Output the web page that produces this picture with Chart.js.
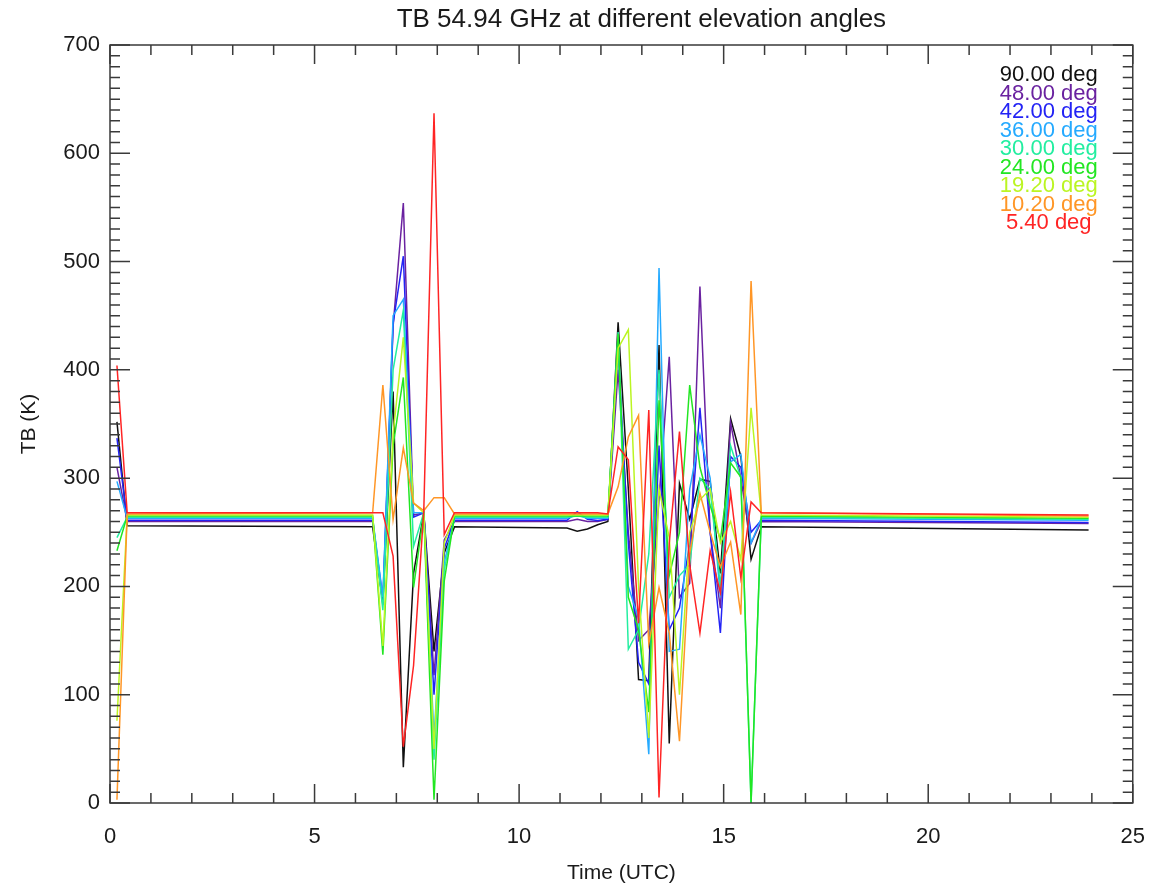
<!DOCTYPE html>
<html>
<head>
<meta charset="utf-8">
<title>TB 54.94 GHz at different elevation angles</title>
<script src="https://cdn.jsdelivr.net/npm/chart.js@4.4.1/dist/chart.umd.min.js"></script>
<style>
  html, body { margin: 0; padding: 0; background: #fff; }
  #tb { display: block; }
</style>
</head>
<body>
<canvas id="tb" width="1166" height="886"></canvas>
<script>
// Sample times (UTC hours), shared by every elevation channel
var times = [0.17, 0.42, 6.42, 6.67, 6.92, 7.17, 7.42, 7.67, 7.92, 8.17, 8.42,
  11.17, 11.42, 11.67, 11.92, 12.17, 12.42, 12.67, 12.92, 13.17, 13.42, 13.67,
  13.92, 14.17, 14.42, 14.67, 14.92, 15.17, 15.42, 15.67, 15.92, 23.92];

var angleLabels = ['90.00 deg', '48.00 deg', '42.00 deg', '36.00 deg', '30.00 deg',
  '24.00 deg', '19.20 deg', '10.20 deg', '5.40 deg'];
var lineColors = ['#111111', '#6a22a0', '#2323f5', '#25aaff', '#22eea0',
  '#22e622', '#bbf522', '#ff9626', '#ff2424'];

// TB (K) per elevation angle, same length as times
var tb90 = [352, 256, 255, 185, 380, 33, 212, 268, 140, 231, 255, 254, 251, 253, 257, 260, 444, 290, 114, 113, 423, 55, 295, 262, 299, 297, 212, 355, 320, 225, 255, 252];
var tb48 = [310, 260, 260, 183, 440, 554, 266, 268, 118, 243, 260, 260, 262, 260, 260, 262, 400, 250, 150, 160, 280, 412, 190, 203, 477, 250, 180, 351, 300, 240, 260, 258];
var tb42 = [337, 261, 261, 188, 443, 505, 264, 268, 100, 235, 261, 261, 269, 262, 261, 262, 420, 240, 130, 110, 330, 160, 180, 240, 365, 250, 157, 320, 310, 250, 261, 259];
var tb36 = [297, 263, 263, 190, 450, 465, 268, 268, 60, 222, 263, 263, 266, 263, 263, 263, 430, 200, 170, 45, 494, 140, 142, 290, 340, 300, 190, 315, 322, 240, 263, 261];
var tb30 = [245, 264, 264, 178, 400, 455, 237, 268, 40, 215, 264, 264, 265, 264, 264, 264, 435, 142, 160, 230, 400, 190, 210, 220, 300, 290, 200, 330, 300, 0, 264, 262];
var tb24 = [233, 265, 265, 137, 330, 393, 199, 268, 3, 205, 265, 265, 265, 265, 265, 265, 433, 190, 160, 84, 372, 210, 250, 386, 310, 275, 243, 314, 301, 0, 265, 263];
var tb19 = [76, 266, 266, 145, 341, 430, 277, 268, 50, 240, 266, 266, 266, 266, 266, 266, 420, 437, 200, 60, 290, 245, 100, 250, 280, 290, 240, 260, 225, 365, 266, 264];
var tb10 = [3, 267, 268, 386, 262, 328, 277, 270, 282, 282, 267, 267, 267, 267, 267, 267, 292, 338, 358, 147, 199, 157, 57, 230, 286, 250, 218, 241, 174, 482, 268, 265];
var tb05 = [404, 268, 268, 268, 228, 52, 127, 270, 637, 248, 268, 268, 268, 268, 268, 267, 329, 317, 166, 363, 5, 240, 343, 220, 157, 233, 194, 287, 208, 278, 268, 266];

var chartTitle = 'TB 54.94 GHz at different elevation angles';

(function () {
  'use strict';

  var FONT = '"Liberation Sans", Arial, Helvetica, sans-serif';
  var INK = '#1a1a1a';
  var series = [tb90, tb48, tb42, tb36, tb30, tb24, tb19, tb10, tb05];

  // Frame with inward major/minor ticks on all four sides, IDL style
  var idlFrame = {
    id: 'idlFrame',
    afterDatasetsDraw: function (chart) {
      var ctx = chart.ctx;
      var a = chart.chartArea;
      var xs = chart.scales.x;
      var ys = chart.scales.y;
      var v, p, len;

      ctx.save();
      ctx.strokeStyle = '#3a3a3a';
      ctx.lineWidth = 1.5;
      ctx.strokeRect(a.left, a.top, a.right - a.left, a.bottom - a.top);

      ctx.beginPath();
      for (v = xs.min; v <= xs.max; v += 1) {
        p = xs.getPixelForValue(v);
        len = (v % 5 === 0) ? 19 : 10;
        ctx.moveTo(p, a.bottom); ctx.lineTo(p, a.bottom - len);
        ctx.moveTo(p, a.top); ctx.lineTo(p, a.top + len);
      }
      for (v = ys.min; v <= ys.max; v += 10) {
        p = ys.getPixelForValue(v);
        len = (v % 100 === 0) ? 20 : 10;
        ctx.moveTo(a.left, p); ctx.lineTo(a.left + len, p);
        ctx.moveTo(a.right, p); ctx.lineTo(a.right - len, p);
      }
      ctx.stroke();

      // title sits a little right of the plot centre in the original
      ctx.fillStyle = INK;
      ctx.font = '26px ' + FONT;
      ctx.textAlign = 'center';
      ctx.textBaseline = 'middle';
      ctx.fillText(chartTitle, (a.left + a.right) / 2 + 20, 20);

      // coloured angle list in the upper right corner
      ctx.font = '22px ' + FONT;
      angleLabels.forEach(function (lbl, i) {
        ctx.fillStyle = lineColors[i];
        ctx.fillText(lbl, a.right - 84, a.top + 30 + i * 18.5);
      });
      ctx.restore();
    }
  };

  var datasets = series.map(function (vals, i) {
    return {
      label: angleLabels[i],
      data: vals.map(function (v, k) { return { x: times[k], y: v }; }),
      borderColor: lineColors[i],
      borderWidth: 1.5,
      pointRadius: 0,
      tension: 0,
      fill: false,
      order: series.length - 1 - i   // red drawn last, on top
    };
  });

  new Chart(document.getElementById('tb'), {
    type: 'line',
    data: { datasets: datasets },
    plugins: [idlFrame],
    options: {
      responsive: false,
      devicePixelRatio: 1,
      animation: false,
      layout: { padding: { top: 45, right: 30, left: 0, bottom: 0 } },
      plugins: {
        legend: { display: false },
        tooltip: { enabled: false },
        title: { display: false }
      },
      scales: {
        x: {
          type: 'linear',
          min: 0,
          max: 25,
          afterFit: function (scale) { scale.height = 83; },
          ticks: {
            stepSize: 5,
            autoSkip: false,
            maxRotation: 0,
            padding: 21,
            color: INK,
            font: { family: FONT, size: 22 }
          },
          grid: { display: false, drawTicks: false },
          border: { display: false },
          title: {
            display: true,
            text: 'Time (UTC)',
            color: INK,
            padding: { top: 0, bottom: 0 },
            font: { family: FONT, size: 21 }
          }
        },
        y: {
          min: 0,
          max: 700,
          afterFit: function (scale) { scale.width = 110; },
          ticks: {
            stepSize: 100,
            autoSkip: false,
            padding: 10,
            color: INK,
            font: { family: FONT, size: 22 }
          },
          grid: { display: false, drawTicks: false },
          border: { display: false },
          title: {
            display: true,
            text: 'TB (K)',
            color: INK,
            padding: { top: 17, bottom: 17 },
            font: { family: FONT, size: 21 }
          }
        }
      }
    }
  });
})();
</script>
</body>
</html>
